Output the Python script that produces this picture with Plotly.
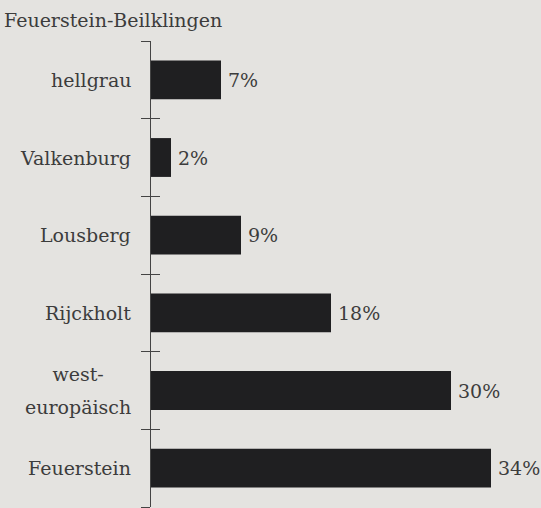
import plotly.graph_objects as go

title_text = "Feuerstein-Beilklingen"
categories = ["hellgrau", "Valkenburg", "Lousberg", "Rijckholt", "west-<br>europäisch", "Feuerstein"]
values = [7, 2, 9, 18, 30, 34]

BG = "#e4e3e0"
BAR = "#1f1f21"
TXT = "#3c3c3c"
FONT = "DejaVu Serif"
FS = 19

pos = list(range(len(categories)))

fig = go.Figure()
fig.add_trace(go.Bar(
    x=values, y=pos, orientation="h",
    marker=dict(color=BAR, line=dict(width=0)),
    width=0.5, hoverinfo="skip",
))
fig.add_trace(go.Scatter(x=[None], y=[None], yaxis="y2", showlegend=False))

annotations = []
for p, v in zip(pos, values):
    annotations.append(dict(x=v, y=p, xref="x", yref="y", text=f"{v}%",
                            showarrow=False, xanchor="left", xshift=5,
                            font=dict(family=FONT, size=FS, color=TXT)))
for p, c in zip(pos, categories):
    if "<br>" in c:
        # larger nominal size gives wider line spacing; glyphs kept at FS
        txt = "<br>".join(f'<span style="font-size:{FS}px">{ln}</span>' for ln in c.split("<br>"))
        annotations.append(dict(x=-0.045, y=p, xref="paper", yref="y", text=txt,
                                showarrow=False, xanchor="right", align="center",
                                font=dict(family=FONT, size=25, color=TXT)))
    else:
        annotations.append(dict(x=-0.045, y=p, xref="paper", yref="y", text=c,
                                showarrow=False, xanchor="right",
                                font=dict(family=FONT, size=FS, color=TXT)))
annotations.append(dict(x=0, y=1, xref="paper", yref="paper", text=title_text,
                        showarrow=False, xanchor="left", yanchor="bottom",
                        xshift=-149, yshift=8,
                        font=dict(family=FONT, size=FS, color=TXT)))

bounds = [i - 0.5 for i in range(len(categories) + 1)]

fig.update_layout(
    width=541, height=508,
    margin=dict(l=151, r=0, t=41, b=1),
    paper_bgcolor=BG, plot_bgcolor=BG,
    showlegend=False,
    bargap=0.5,
    font=dict(family=FONT, color=TXT),
    xaxis=dict(range=[0, 39], visible=False, fixedrange=True),
    yaxis=dict(range=[len(categories) - 0.5, -0.5], tickvals=bounds,
               ticks="outside", ticklen=9, tickwidth=1.3, tickcolor="#444",
               showticklabels=False, showline=True, linecolor="#444", linewidth=1.3,
               showgrid=False, zeroline=False),
    yaxis2=dict(range=[len(categories) - 0.5, -0.5], tickvals=bounds, overlaying="y",
                side="left", ticks="inside", ticklen=9, tickwidth=1.3, tickcolor="#444",
                showticklabels=False, showline=False, showgrid=False, zeroline=False),
    annotations=annotations,
)

fig.write_html("out.html", config={"displayModeBar": False},
               post_script="document.body.style.margin='0';document.body.style.background='%s';" % BG)
